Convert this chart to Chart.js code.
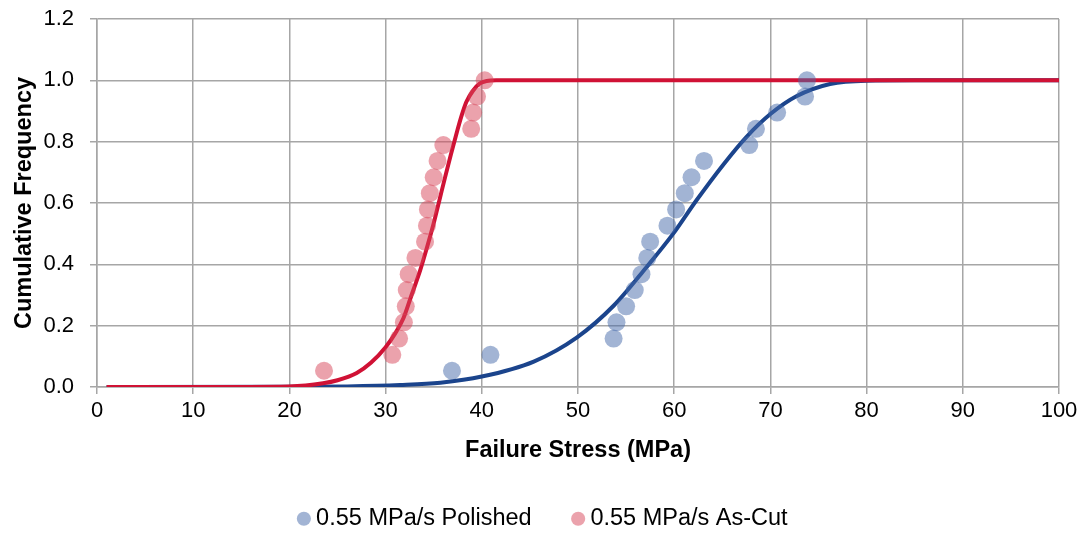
<!DOCTYPE html>
<html>
<head>
<meta charset="utf-8">
<title>Failure Stress</title>
<script src="https://cdn.jsdelivr.net/npm/chart.js@4/dist/chart.umd.min.js"></script>
<style>
  html, body { margin: 0; padding: 0; background: #fff; }
  #wrap { width: 1083px; height: 534px; }
</style>
</head>
<body>
<div id="wrap"><canvas id="stressChart"></canvas></div>
<script>
// Measured points (cumulative frequency vs failure stress)
const polishedStress = [36.9, 40.9, 53.7, 54.0, 55.0, 55.9, 56.6, 57.2, 57.5, 59.3, 60.2, 61.1, 61.8, 63.1, 67.8, 68.5, 70.7, 73.6, 73.8];
const polishedFreq = [0.053, 0.105, 0.158, 0.211, 0.263, 0.316, 0.368, 0.421, 0.474, 0.526, 0.579, 0.632, 0.684, 0.737, 0.789, 0.842, 0.895, 0.947, 1.0];
const asCutStress = [23.6, 30.7, 31.4, 31.9, 32.1, 32.2, 32.4, 33.1, 34.1, 34.3, 34.4, 34.6, 35.0, 35.4, 36.0, 38.9, 39.1, 39.5, 40.3];
const asCutFreq = [0.053, 0.105, 0.158, 0.211, 0.263, 0.316, 0.368, 0.421, 0.474, 0.526, 0.579, 0.632, 0.684, 0.737, 0.789, 0.842, 0.895, 0.947, 1.0];

// Fitted curves
const polishedFitX = [1, 20, 26, 31.5, 35.7, 40, 45.4, 49.9, 53.7, 57.1, 59.9, 62.3, 65.1, 67.5, 70, 72.7, 76.2, 80, 85, 100];
const polishedFitY = [0, 0.0005, 0.002, 0.0065, 0.014, 0.034, 0.083, 0.162, 0.265, 0.39, 0.5, 0.608, 0.725, 0.815, 0.89, 0.948, 0.988, 0.999, 1, 1];
const asCutFitX = [1, 10, 20, 23.5, 25, 27, 28.5, 30, 31, 31.85, 32.7, 33.6, 34.3, 35.0, 35.6, 36.2, 36.8, 37.4, 37.9, 38.4, 39.1, 39.8, 40.5, 41.5, 45, 60, 80, 100];
const asCutFitY = [0, 0, 0.002, 0.012, 0.022, 0.046, 0.08, 0.13, 0.175, 0.224, 0.30, 0.381, 0.455, 0.534, 0.61, 0.686, 0.76, 0.83, 0.885, 0.93, 0.967, 0.99, 0.998, 1, 1, 1, 1, 1];

const seriesNames = ['0.55 MPa/s Polished', '0.55 MPa/s As-Cut'];

// Turn two arrays into {x, y} points
function toPoints(xs, ys) {
    return xs.map((x, i) => ({ x: x, y: ys[i] }));
}

Chart.defaults.font.family = '"Liberation Sans", Arial, sans-serif';
Chart.defaults.font.size = 22;
Chart.defaults.color = '#000';

const gridColor = '#a6a6a6';

// The legend only reserves a small strip (maxHeight); move it into place and
// let it draw down to the canvas edge
const legendRoom = {
    id: 'legendRoom',
    afterLayout(chart) {
        const lg = chart.legend;
        lg.top -= 6;
        lg.left += 16;
        lg.right += 16;
        lg.bottom = chart.height;
        lg.height = lg.bottom - lg.top;
    }
};

const ctx = document.getElementById('stressChart').getContext('2d');
new Chart(ctx, {
    type: 'scatter',
    data: {
        datasets: [
            {
                label: seriesNames[0],
                data: toPoints(polishedStress, polishedFreq),
                backgroundColor: 'rgba(70, 105, 170, 0.5)',
                borderWidth: 0,
                pointRadius: 9,
                pointHoverRadius: 9
            },
            {
                label: seriesNames[1],
                data: toPoints(asCutStress, asCutFreq),
                backgroundColor: 'rgba(215, 70, 90, 0.5)',
                borderWidth: 0,
                pointRadius: 9,
                pointHoverRadius: 9
            },
            {
                label: 'As-Cut fit',
                data: toPoints(asCutFitX, asCutFitY),
                showLine: true,
                borderColor: '#d01235',
                borderWidth: 4,
                pointRadius: 0,
                cubicInterpolationMode: 'monotone'
            },
            {
                label: 'Polished fit',
                data: toPoints(polishedFitX, polishedFitY),
                showLine: true,
                borderColor: '#1b448c',
                borderWidth: 4,
                pointRadius: 0,
                cubicInterpolationMode: 'monotone'
            }
        ]
    },
    options: {
        responsive: true,
        maintainAspectRatio: false,
        animation: false,
        layout: { padding: { top: 19, right: 24, bottom: 31, left: 0 } },
        plugins: {
            tooltip: { enabled: false },
            legend: {
                position: 'bottom',
                maxHeight: 36,
                labels: {
                    font: { size: 23.5 },
                    usePointStyle: true,
                    pointStyle: 'circle',
                    boxWidth: 1,
                    boxHeight: 10,
                    padding: 46,
                    filter: (item) => item.datasetIndex < 2
                }
            }
        },
        scales: {
            x: {
                min: 0,
                max: 100,
                ticks: { stepSize: 10, padding: 4, maxRotation: 0 },
                grid: { color: gridColor, lineWidth: 1.5, tickLength: 7 },
                border: { color: gridColor, width: 1.5 },
                title: {
                    display: true,
                    text: 'Failure Stress (MPa)',
                    font: { size: 23.5, weight: 'bold' },
                    padding: { top: 0, bottom: 2 }
                },
                afterFit: (scale) => { scale.height = 80; }
            },
            y: {
                min: 0,
                max: 1.2,
                ticks: { stepSize: 0.2, padding: 16, callback: (v) => v.toFixed(1) },
                grid: { color: gridColor, lineWidth: 1.5, tickLength: 7 },
                border: { color: gridColor, width: 1.5 },
                title: {
                    display: true,
                    text: 'Cumulative Frequency',
                    font: { size: 23.5, weight: 'bold' },
                    padding: { top: 10, bottom: 0 }
                },
                afterFit: (scale) => {
                    scale.width = 97;
                    // label padding should not push the plot down from the top
                    scale.paddingTop = 13;
                    scale.paddingBottom = 13;
                }
            }
        }
    },
    plugins: [legendRoom]
});
</script>
</body>
</html>
